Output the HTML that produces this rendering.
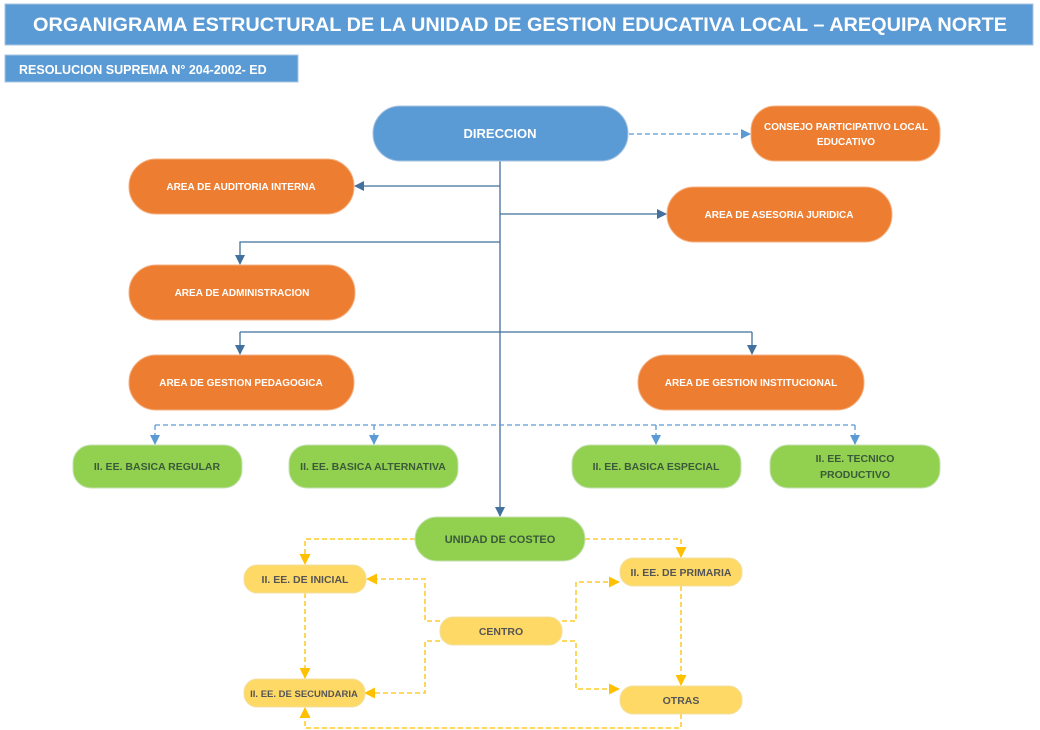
<!DOCTYPE html>
<html><head><meta charset="utf-8"><style>
html,body{margin:0;padding:0;background:#fff;width:1040px;height:730px;overflow:hidden}
svg text{font-family:"Liberation Sans",sans-serif;font-weight:bold}
</style></head><body>
<svg width="1040" height="730" viewBox="0 0 1040 730" xmlns="http://www.w3.org/2000/svg">
<defs>
<marker id="ab" markerWidth="10" markerHeight="10" refX="9" refY="5" orient="auto" markerUnits="userSpaceOnUse"><path d="M0,0 L10,5 L0,10 z" fill="#41719c"/></marker>
<marker id="al" markerWidth="10" markerHeight="10" refX="9" refY="5" orient="auto" markerUnits="userSpaceOnUse"><path d="M0,0 L10,5 L0,10 z" fill="#5b9bd5"/></marker>
<marker id="ay" markerWidth="11" markerHeight="11" refX="10" refY="5.5" orient="auto" markerUnits="userSpaceOnUse"><path d="M0,0 L11,5.5 L0,11 z" fill="#ffc000"/></marker>
</defs>
<rect x="5" y="4" width="1028" height="41" fill="#5b9bd5" stroke="#a8c4e0"/>
<text x="33" y="31" font-size="19" fill="#fff" textLength="974" lengthAdjust="spacingAndGlyphs">ORGANIGRAMA ESTRUCTURAL DE LA UNIDAD DE GESTION EDUCATIVA LOCAL – AREQUIPA NORTE</text>
<rect x="5" y="55" width="293" height="27" fill="#5b9bd5" stroke="#a8c4e0"/>
<text x="19" y="74" font-size="12.5" fill="#fff">RESOLUCION SUPREMA N° 204-2002- ED</text>

<g stroke="#41719c" stroke-width="1.3" fill="none">
<line x1="500" y1="161" x2="500" y2="516" marker-end="url(#ab)"/>
<line x1="500" y1="186" x2="355" y2="186" marker-end="url(#ab)"/>
<line x1="500" y1="214" x2="666" y2="214" marker-end="url(#ab)"/>
<polyline points="500,242 240,242 240,264" marker-end="url(#ab)"/>
<line x1="240" y1="332" x2="752" y2="332"/>
<line x1="240" y1="332" x2="240" y2="354" marker-end="url(#ab)"/>
<line x1="752" y1="332" x2="752" y2="354" marker-end="url(#ab)"/>
</g>
<g stroke="#5b9bd5" stroke-width="1.3" fill="none" stroke-dasharray="5,3">
<line x1="629" y1="134" x2="750" y2="134" marker-end="url(#al)"/>
<line x1="155" y1="425" x2="855" y2="425"/>
<line x1="155" y1="425" x2="155" y2="444" marker-end="url(#al)"/>
<line x1="374" y1="425" x2="374" y2="444" marker-end="url(#al)"/>
<line x1="656" y1="425" x2="656" y2="444" marker-end="url(#al)"/>
<line x1="855" y1="425" x2="855" y2="444" marker-end="url(#al)"/>
</g>
<g stroke="#ffc000" stroke-width="1.3" fill="none" stroke-dasharray="5,3">
<polyline points="415,539 305,539 305,564" marker-end="url(#ay)"/>
<polyline points="585,539 681,539 681,557" marker-end="url(#ay)"/>
<polyline points="440,621 425,621 425,579 367,579" marker-end="url(#ay)"/>
<polyline points="440,641 425,641 425,693 365,693" marker-end="url(#ay)"/>
<polyline points="562,621 576,621 576,582 619,582" marker-end="url(#ay)"/>
<polyline points="562,641 576,641 576,689 619,689" marker-end="url(#ay)"/>
<line x1="305" y1="593" x2="305" y2="678" marker-end="url(#ay)"/>
<line x1="681" y1="586" x2="681" y2="685" marker-end="url(#ay)"/>
<polyline points="681,714 681,728 305,728 305,708" marker-end="url(#ay)"/>
</g>

<g font-size="11" text-anchor="middle">
<rect x="373" y="106" width="255" height="55" rx="27" fill="#5b9bd5" stroke="#a8c4e0"/>
<text x="500" y="138" font-size="13" fill="#fff">DIRECCION</text>
<rect x="751" y="106" width="189" height="55" rx="24" fill="#ed7d31" stroke="#f4b183"/>
<text x="846" y="130" fill="#fff" font-size="10">CONSEJO PARTICIPATIVO LOCAL</text>
<text x="846" y="145" fill="#fff" font-size="10">EDUCATIVO</text>
<rect x="129" y="159" width="225" height="55" rx="27" fill="#ed7d31" stroke="#f4b183"/>
<text x="241" y="190" fill="#fff" font-size="10">AREA DE AUDITORIA INTERNA</text>
<rect x="667" y="187" width="225" height="55" rx="27" fill="#ed7d31" stroke="#f4b183"/>
<text x="779" y="218" fill="#fff" font-size="10">AREA DE ASESORIA JURIDICA</text>
<rect x="129" y="265" width="226" height="55" rx="27" fill="#ed7d31" stroke="#f4b183"/>
<text x="242" y="296" fill="#fff" font-size="10">AREA DE ADMINISTRACION</text>
<rect x="129" y="355" width="225" height="55" rx="27" fill="#ed7d31" stroke="#f4b183"/>
<text x="241" y="386" fill="#fff" font-size="10">AREA DE GESTION PEDAGOGICA</text>
<rect x="638" y="355" width="226" height="55" rx="27" fill="#ed7d31" stroke="#f4b183"/>
<text x="751" y="386" fill="#fff" font-size="10">AREA DE GESTION INSTITUCIONAL</text>

<rect x="73" y="445" width="169" height="43" rx="18" fill="#92d050" stroke="#c5e0b4"/>
<text x="157" y="470" fill="#3a5a3a" font-size="10.5">II. EE. BASICA REGULAR</text>
<rect x="289" y="445" width="169" height="43" rx="18" fill="#92d050" stroke="#c5e0b4"/>
<text x="373" y="470" fill="#3a5a3a" font-size="10.5">II. EE. BASICA ALTERNATIVA</text>
<rect x="572" y="445" width="169" height="43" rx="18" fill="#92d050" stroke="#c5e0b4"/>
<text x="656" y="470" fill="#3a5a3a" font-size="10.5">II. EE. BASICA ESPECIAL</text>
<rect x="770" y="445" width="170" height="43" rx="18" fill="#92d050" stroke="#c5e0b4"/>
<text x="855" y="462" fill="#3a5a3a" font-size="10.5">II. EE. TECNICO</text>
<text x="855" y="478" fill="#3a5a3a" font-size="10.5">PRODUCTIVO</text>

<rect x="415" y="517" width="170" height="44" rx="22" fill="#92d050" stroke="#c5e0b4"/>
<text x="500" y="543" fill="#3a5a3a" font-size="11">UNIDAD DE COSTEO</text>

<rect x="244" y="565" width="122" height="28" rx="13" fill="#ffd966" stroke="#f2e0a0"/>
<text x="305" y="583" fill="#555" font-size="10.5">II. EE. DE INICIAL</text>
<rect x="620" y="558" width="122" height="28" rx="13" fill="#ffd966" stroke="#f2e0a0"/>
<text x="681" y="576" fill="#555" font-size="10.5">II. EE. DE PRIMARIA</text>
<rect x="440" y="617" width="122" height="28" rx="13" fill="#ffd966" stroke="#f2e0a0"/>
<text x="501" y="635" fill="#555" font-size="10.5">CENTRO</text>
<rect x="244" y="679" width="121" height="28" rx="13" fill="#ffd966" stroke="#f2e0a0"/>
<text x="304" y="697" fill="#555" font-size="9.5">II. EE. DE SECUNDARIA</text>
<rect x="620" y="686" width="122" height="28" rx="13" fill="#ffd966" stroke="#f2e0a0"/>
<text x="681" y="704" fill="#555" font-size="10.5">OTRAS</text>
</g>
</svg>
</body></html>
